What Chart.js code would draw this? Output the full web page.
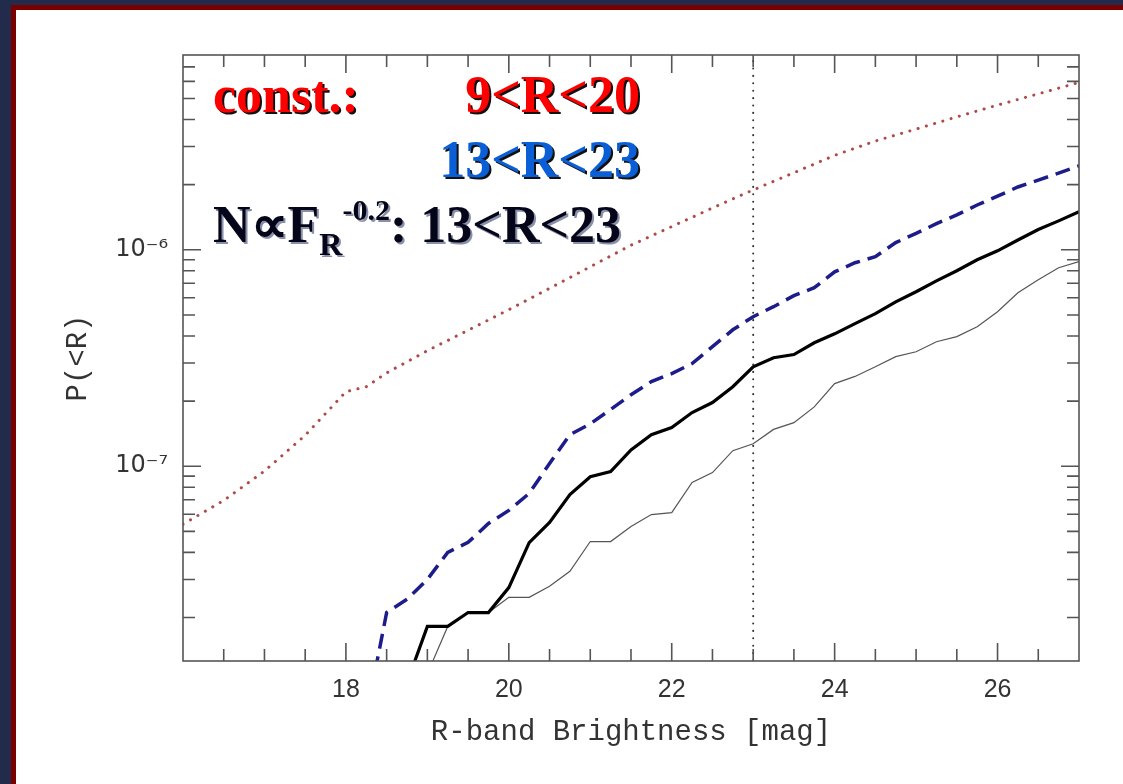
<!DOCTYPE html>
<html>
<head>
<meta charset="utf-8">
<script src="https://cdn.jsdelivr.net/npm/chart.js@4.4.1/dist/chart.umd.min.js"></script>
<style>
html, body { margin:0; padding:0; width:1123px; height:784px; overflow:hidden; background:#232b4c; }
#panel { position:absolute; left:11px; top:5px; right:0; bottom:0; background:#fff; border-left:5px solid #7a0000; border-top:5px solid #7a0000; }
#c { position:absolute; left:0; top:0; }
.lab { position:absolute; font-family:"Liberation Serif", serif; font-weight:bold; font-size:52px; line-height:52px; white-space:nowrap; text-shadow:2px 2px 0 #111; }
.red { color:#ff0000; }
.blue { color:#0b5fd6; }
.blk { color:#05051a; text-shadow:2px 2px 0 #8a90a8; }
</style>
</head>
<body>
<div id="panel"></div>
<canvas id="c" width="1123" height="784"></canvas>
<div class="lab red" style="left:213px; top:69px">const.:</div>
<div class="lab red" style="right:483px; top:69px">9&lt;R&lt;20</div>
<div class="lab blue" style="right:483px; top:134px">13&lt;R&lt;23</div>
<div class="lab blk" style="left:213px; top:199px">N&prop;F<span style="font-size:32px; position:relative; top:13px">R</span><span style="font-size:30px; position:relative; top:-22px">-0.2</span>: 13&lt;R&lt;23</div>
<script>
// valeurs (magnitude R, probabilite P(<R))
const redR = [16, 16.5, 17, 17.5, 18, 18.25, 18.5, 19, 19.5, 20, 20.5, 21, 21.5, 22, 22.5, 23, 23.5, 24, 24.5, 25, 25.5, 26, 26.5, 27]
const redP = [5.4e-8, 6.95e-8, 9.5e-8, 1.39e-7, 2.21e-7, 2.33e-7, 2.7e-7, 3.42e-7, 4.25e-7, 5.29e-7, 6.64e-7, 8.35e-7, 1.05e-6, 1.28e-6, 1.56e-6, 1.89e-6, 2.27e-6, 2.73e-6, 3.18e-6, 3.61e-6, 4.11e-6, 4.66e-6, 5.25e-6, 5.93e-6]

const blueR = [18.25, 18.5, 18.75, 19, 19.25, 19.5, 19.75, 20, 20.25, 20.5, 20.75, 21, 21.25, 21.5, 21.75, 22, 22.25, 22.5, 22.75, 23, 23.25, 23.5, 23.75, 24, 24.25, 24.5, 24.75, 25, 25.25, 25.5, 25.75, 26, 26.25, 26.5, 26.75, 27]
const blueP = [7e-9, 2.11e-8, 2.43e-8, 3.0e-8, 4.0e-8, 4.45e-8, 5.44e-8, 6.25e-8, 7.49e-8, 1.03e-7, 1.4e-7, 1.57e-7, 1.83e-7, 2.14e-7, 2.46e-7, 2.68e-7, 2.98e-7, 3.57e-7, 4.27e-7, 4.91e-7, 5.46e-7, 6.14e-7, 6.68e-7, 7.91e-7, 8.71e-7, 9.29e-7, 1.08e-6, 1.19e-6, 1.32e-6, 1.45e-6, 1.61e-6, 1.77e-6, 1.95e-6, 2.1e-6, 2.26e-6, 2.44e-6]

const blackR = [18.75, 19, 19.25, 19.5, 19.75, 20, 20.25, 20.5, 20.75, 21, 21.25, 21.5, 21.75, 22, 22.25, 22.5, 22.75, 23, 23.25, 23.5, 23.75, 24, 24.25, 24.5, 24.75, 25, 25.25, 25.5, 25.75, 26, 26.25, 26.5, 26.75, 27]
const blackP = [1.0e-8, 1.82e-8, 1.82e-8, 2.11e-8, 2.11e-8, 2.75e-8, 4.44e-8, 5.5e-8, 7.4e-8, 8.95e-8, 9.45e-8, 1.19e-7, 1.4e-7, 1.51e-7, 1.77e-7, 1.97e-7, 2.33e-7, 2.88e-7, 3.17e-7, 3.28e-7, 3.72e-7, 4.09e-7, 4.56e-7, 5.07e-7, 5.75e-7, 6.4e-7, 7.19e-7, 8.0e-7, 8.99e-7, 9.89e-7, 1.11e-6, 1.24e-6, 1.36e-6, 1.5e-6]

const grayR = [19, 19.25, 19.5, 19.75, 20, 20.25, 20.5, 20.75, 21, 21.25, 21.5, 21.75, 22, 22.25, 22.5, 22.75, 23, 23.25, 23.5, 23.75, 24, 24.25, 24.5, 24.75, 25, 25.25, 25.5, 25.75, 26, 26.25, 26.5, 26.75, 27]
const grayP = [1.1e-8, 1.82e-8, 2.11e-8, 2.11e-8, 2.48e-8, 2.48e-8, 2.79e-8, 3.27e-8, 4.49e-8, 4.49e-8, 5.27e-8, 5.98e-8, 6.11e-8, 8.41e-8, 9.35e-8, 1.18e-7, 1.27e-7, 1.48e-7, 1.59e-7, 1.88e-7, 2.41e-7, 2.6e-7, 2.88e-7, 3.21e-7, 3.38e-7, 3.76e-7, 3.97e-7, 4.41e-7, 5.17e-7, 6.33e-7, 7.27e-7, 8.26e-7, 8.81e-7]

// ligne verticale R = 23
const cutR = [23, 23]
const cutP = [1e-8, 1e-5]

// graduations
const xTickValues = [18, 20, 22, 24, 26]
const yTickValues = [1e-7, 1e-6]
const yTickLabels = ['10⁻⁷', '10⁻⁶']

const xMin = 16, xMax = 27
const yMin = 1.26e-8, yMax = 7.94e-6

function pts(rs, ps) {
    return rs.map((r, i) => ({x: r, y: ps[i]}))
}

// petites graduations vers l'interieur, sur les 4 cotes du cadre
const cadre = {
    id: 'cadre',
    afterDatasetsDraw(chart) {
        const {ctx, chartArea: a, scales: {x, y}} = chart
        ctx.save()
        ctx.strokeStyle = '#555'
        ctx.lineWidth = 1.6
        ctx.strokeRect(a.left, a.top, a.right - a.left, a.bottom - a.top)
        ctx.beginPath()
        for (let v = xMin + 0.5; v < xMax; v += 0.5) {
            const px = x.getPixelForValue(v)
            const len = v % 2 === 0 ? 18 : 12
            ctx.moveTo(px, a.bottom); ctx.lineTo(px, a.bottom - len)
            ctx.moveTo(px, a.top); ctx.lineTo(px, a.top + len)
        }
        for (let d = -8; d <= -5; d++) {
            for (let k = 1; k <= 9; k++) {
                const v = k * Math.pow(10, d)
                if (v <= yMin || v >= yMax) continue
                const py = y.getPixelForValue(v)
                const len = k === 1 ? 18 : 12
                ctx.moveTo(a.left, py); ctx.lineTo(a.left + len, py)
                ctx.moveTo(a.right, py); ctx.lineTo(a.right - len, py)
            }
        }
        ctx.stroke()
        ctx.restore()
    }
}

const tickFont = {family: 'Liberation Sans', size: 25}
const titleFont = {family: 'Liberation Mono', size: 29}

new Chart(document.querySelector('#c'), {
    type: 'line',
    data: {
        datasets: [
            {label: 'N∝F_R^-0.2: 13<R<23', data: pts(blackR, blackP), borderColor: '#000', borderWidth: 3.2},
            {label: 'const.: 13<R<23', data: pts(blueR, blueP), borderColor: '#1c1c8a', borderWidth: 3.5, borderDash: [15, 8]},
            {label: 'N∝F_R^-0.2 (fin)', data: pts(grayR, grayP), borderColor: '#555', borderWidth: 1.2},
            {label: 'const.: 9<R<20', data: pts(redR, redP), borderColor: '#b04a4a', borderWidth: 3, borderDash: [0.1, 8.5], borderCapStyle: 'round'},
            {label: 'R = 23', data: pts(cutR, cutP), borderColor: '#333', borderWidth: 2, borderDash: [0.1, 7.3], borderCapStyle: 'round'}
        ]
    },
    options: {
        responsive: false,
        animation: false,
        layout: {padding: {top: 55, right: 44, left: 0, bottom: 0}},
        elements: {point: {radius: 0}, line: {tension: 0}},
        datasets: {line: {clip: 0}},
        plugins: {legend: {display: false}, tooltip: {enabled: false}},
        scales: {
            x: {
                type: 'linear', min: xMin, max: xMax,
                afterBuildTicks: s => { s.ticks = xTickValues.map(v => ({value: v})) },
                afterFit: s => { s.height = 123 },
                ticks: {font: tickFont, color: '#333', padding: 14, maxRotation: 0},
                grid: {display: false, drawTicks: false},
                border: {display: false},
                title: {display: true, text: 'R-band Brightness [mag]', font: titleFont, color: '#333', padding: {top: 4, bottom: 34}}
            },
            y: {
                type: 'logarithmic', min: yMin, max: yMax,
                afterBuildTicks: s => { s.ticks = yTickValues.map(v => ({value: v})) },
                afterFit: s => { s.width = 183 },
                ticks: {font: {family: 'DejaVu Sans', size: 24}, color: '#333', padding: 15, callback: (v, i) => yTickLabels[i]},
                grid: {display: false, drawTicks: false},
                border: {display: false},
                title: {display: true, text: 'P(<R)', font: titleFont, color: '#333', padding: {top: 61, bottom: 0}}
            }
        }
    },
    plugins: [cadre]
})
</script>
</body>
</html>
